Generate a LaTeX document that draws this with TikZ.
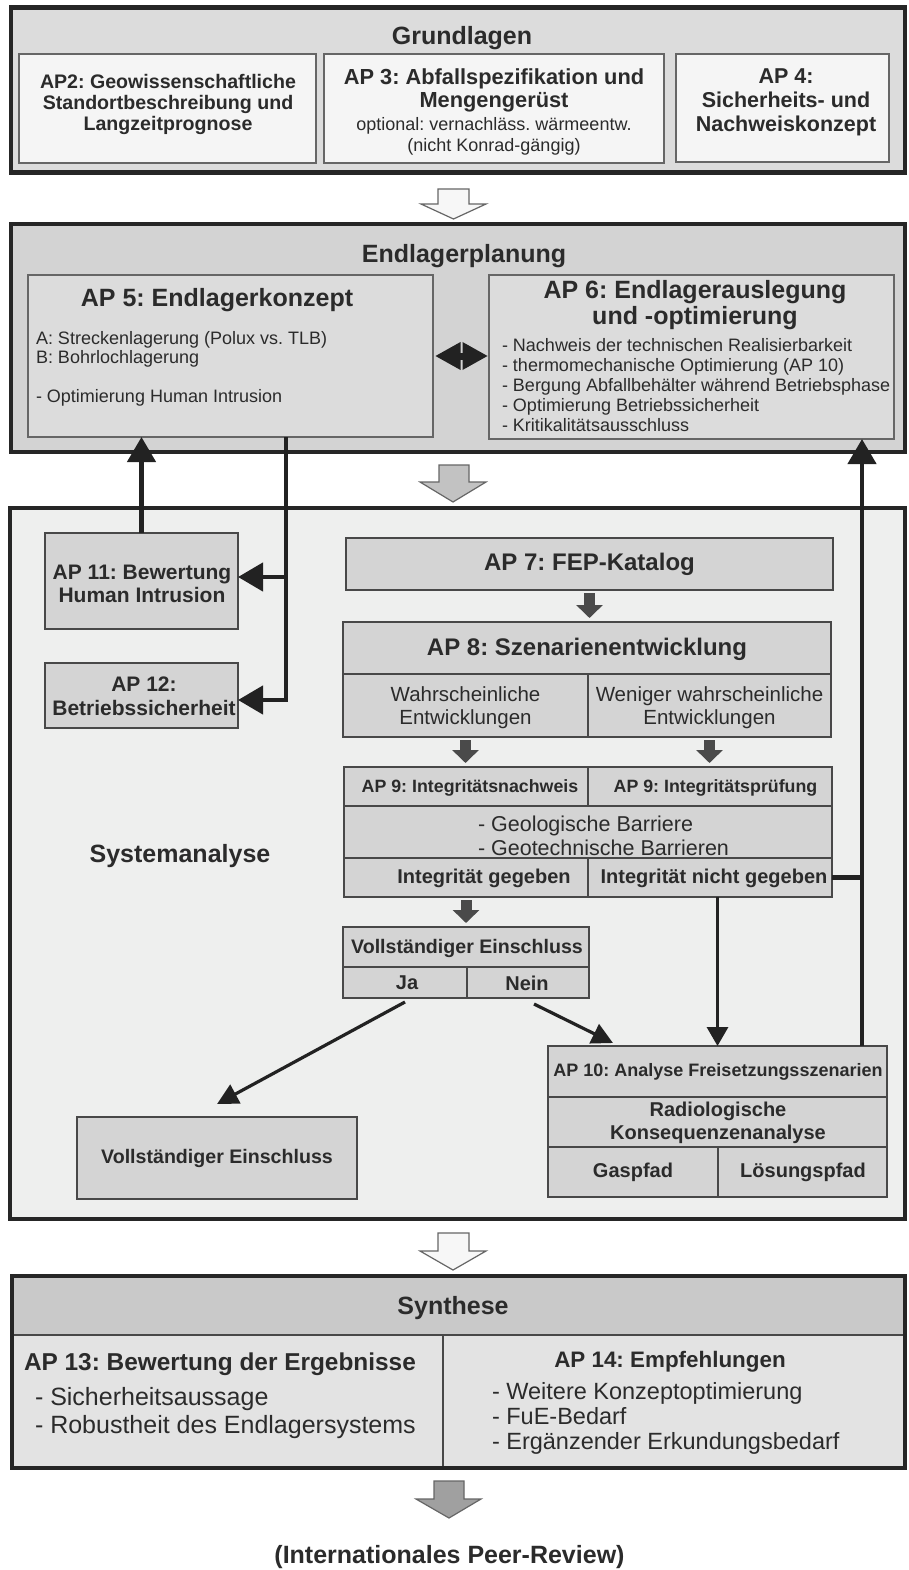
\documentclass[tikz,border=0pt]{standalone}
\usepackage{fontspec}
\setmainfont{Liberation Sans}
\usetikzlibrary{arrows.meta}
\definecolor{txtc}{HTML}{2B2B2B}
\definecolor{outc}{HTML}{262626}
\definecolor{cellc}{HTML}{484848}
\definecolor{cellc2}{HTML}{666666}
\definecolor{gfill}{HTML}{DCDCDC}
\definecolor{lightc}{HTML}{F5F5F5}
\definecolor{efill}{HTML}{D3D3D3}
\definecolor{e2fill}{HTML}{DCDCDC}
\definecolor{sfill}{HTML}{EEEFEE}
\definecolor{boxc}{HTML}{D4D4D4}
\definecolor{sytc}{HTML}{C9C9C9}
\definecolor{sylc}{HTML}{E3E3E3}
\definecolor{connc}{HTML}{222222}
\definecolor{fatc}{HTML}{4A4A4A}
\definecolor{blkc}{HTML}{666666}
\definecolor{arrw}{HTML}{F7F7F7}
\definecolor{arrg}{HTML}{C2C2C2}
\definecolor{arrd}{HTML}{A0A0A0}
\newcommand\fs[2]{\fontsize{#1pt}{#2pt}\selectfont}
\frenchspacing
\begin{document}
\begin{tikzpicture}[x=1pt,y=-1pt,
  sect/.style={draw=outc, line width=4.5pt, inner sep=0pt, outer sep=0pt, anchor=north west},
  cell/.style={draw=cellc, line width=1.7pt, inner sep=0pt, outer sep=0pt, anchor=north west, fill=boxc},
  lbl/.style={inner sep=0pt, outer sep=0pt, text=txtc, align=center},
  conn/.style={draw=connc, line width=4.5pt},
  bigtip/.style={-{Triangle[length=25pt,width=28pt]}},
  diag/.style={draw=connc, line width=3.2pt, -{Triangle[length=21pt,width=21pt]}},
  fat/.style={draw=fatc, line width=11pt, -{Triangle[length=13pt,width=26pt]}, shorten <=3pt, shorten >=4pt},
  blk/.style={draw=blkc, line width=1.2pt, line join=miter}
]
\fill[white] (0,0) rectangle (909,1570);
\useasboundingbox (0,0) rectangle (909,1570);

% ---------------- Grundlagen
\node[sect, fill=gfill, minimum width=894pt, minimum height=165pt] (grund) at (11,7.5) {};
\node[lbl, font=\fs{25}{27}\bfseries] (grundT) at (462,38) {Grundlagen};
\node[cell, fill=lightc, draw=cellc2, line width=1.4pt, minimum width=297pt, minimum height=109pt] (ap2) at (19,54) {};
\node[lbl, font=\fs{19.6}{21}\bfseries] (ap2T) at (168,104) {AP2: Geowissenschaftliche\\Standortbeschreibung und\\Langzeitprognose};
\node[cell, fill=lightc, draw=cellc2, line width=1.4pt, minimum width=340pt, minimum height=109pt] (ap3) at (324,54) {};
\node[lbl, font=\fs{21.8}{23}\bfseries] (ap3T) at (494,90) {AP 3: Abfallspezifikation und\\Mengengerüst};
\node[lbl, font=\fs{18}{21}] (ap3N) at (494,136) {optional: vernachläss. wärmeentw.\\(nicht Konrad-gängig)};
\node[cell, fill=lightc, draw=cellc2, line width=1.4pt, minimum width=213pt, minimum height=108pt] (ap4) at (676,54) {};
\node[lbl, font=\fs{21.5}{24}\bfseries] (ap4T) at (786,102) {AP 4:\\Sicherheits- und\\Nachweiskonzept};

\path[blk, fill=arrw] (438,189) -- (469,189) -- (469,204) -- (486,204) -- (453.5,219) -- (421,204) -- (438,204) -- cycle;

% ---------------- Endlagerplanung
\node[sect, fill=efill, minimum width=894pt, minimum height=228pt] (endl) at (11,224) {};
\node[lbl, font=\fs{25}{27}\bfseries] (endlT) at (464,256) {Endlagerplanung};
\node[cell, fill=e2fill, draw=cellc2, line width=1.4pt, minimum width=405pt, minimum height=162pt] (ap5) at (28,275) {};
\node[lbl, font=\fs{25}{27}\bfseries] (ap5T) at (217,300) {AP 5: Endlagerkonzept};
\node[lbl, align=left, anchor=west, font=\fs{18}{19.5}] (ap5B) at (36,369) {A: Streckenlagerung (Polux vs. TLB)\\B: Bohrlochlagerung\\[19.5pt]- Optimierung Human Intrusion};
\node[cell, fill=e2fill, draw=cellc2, line width=1.4pt, minimum width=405pt, minimum height=164pt] (ap6) at (489,275) {};
\node[lbl, font=\fs{25}{26}\bfseries] (ap6T) at (695,305) {AP 6: Endlagerauslegung\\und -optimierung};
\node[lbl, align=left, anchor=west, font=\fs{18}{20.2}] (ap6B) at (502,385) {- Nachweis der technischen Realisierbarkeit\\- thermomechanische Optimierung (AP 10)\\- Bergung Abfallbehälter während Betriebsphase\\- Optimierung Betriebssicherheit\\- Kritikalitätsausschluss};

\path[blk, fill=arrg] (439,465) -- (469,465) -- (469,482) -- (486,482) -- (453,502) -- (420,482) -- (439,482) -- cycle;

% ---------------- Systemanalyse
\node[sect, fill=sfill, minimum width=895pt, minimum height=711pt] (sys) at (10,508) {};
\node[lbl, font=\fs{25}{27}\bfseries] (sysT) at (180,856) {Systemanalyse};

\node[cell, minimum width=193pt, minimum height=96pt] (ap11) at (45,533) {};
\node[lbl, font=\fs{21}{23}\bfseries] (ap11T) at (142,584) {AP 11: Bewertung\\Human Intrusion};
\node[cell, minimum width=193pt, minimum height=65pt] (ap12) at (45,663) {};
\node[lbl, font=\fs{21}{24}\bfseries] (ap12T) at (144,696) {AP 12:\\Betriebssicherheit};

\node[cell, minimum width=487pt, minimum height=52pt] (ap7) at (346,538) {};
\node[lbl, font=\fs{24}{26}\bfseries] (ap7T) at (589.5,564) {AP 7: FEP-Katalog};

\node[cell, minimum width=488pt, minimum height=52pt] (ap8) at (343,622) {};
\node[lbl, font=\fs{24}{26}\bfseries] (ap8T) at (587,649) {AP 8: Szenarienentwicklung};
\node[cell, minimum width=245pt, minimum height=63pt] (wahr) at (343,674) {};
\node[lbl, font=\fs{20.5}{23}] (wahrT) at (465.5,708) {Wahrscheinliche\\Entwicklungen};
\node[cell, minimum width=243pt, minimum height=63pt] (wenig) at (588,674) {};
\node[lbl, font=\fs{20.5}{23}] (wenigT) at (709.5,708) {Weniger wahrscheinliche\\Entwicklungen};

\node[cell, minimum width=244pt, minimum height=39pt] (ap9a) at (344,767) {};
\node[lbl, font=\fs{17.8}{20}\bfseries] (ap9aT) at (470,787.5) {AP 9: Integritätsnachweis};
\node[cell, minimum width=244pt, minimum height=39pt] (ap9b) at (588,767) {};
\node[lbl, font=\fs{17.8}{20}\bfseries] (ap9bT) at (715.5,787.5) {AP 9: Integritätsprüfung};
\node[cell, minimum width=488pt, minimum height=52pt] (barr) at (344,806) {};
\node[lbl, align=left, anchor=west, font=\fs{21.5}{24}] (barrT) at (478,836) {- Geologische Barriere\\- Geotechnische Barrieren};
\node[cell, minimum width=244pt, minimum height=39pt] (igeg) at (344,858) {};
\node[lbl, font=\fs{20}{22}\bfseries] (igegT) at (484,878.5) {Integrität gegeben};
\node[cell, minimum width=244pt, minimum height=39pt] (ingeg) at (588,858) {};
\node[lbl, font=\fs{20}{22}\bfseries] (ingegT) at (714,878.5) {Integrität nicht gegeben};

\node[cell, minimum width=246pt, minimum height=40pt] (ve1) at (343,927) {};
\node[lbl, font=\fs{19.6}{22}\bfseries] (ve1T) at (467,948) {Vollständiger Einschluss};
\node[cell, minimum width=124pt, minimum height=31pt] (ja) at (343,967) {};
\node[lbl, font=\fs{20}{22}\bfseries] (jaT) at (407,983) {Ja};
\node[cell, minimum width=122pt, minimum height=31pt] (nein) at (467,967) {};
\node[lbl, font=\fs{20}{22}\bfseries] (neinT) at (527,983) {Nein};

\node[cell, minimum width=339pt, minimum height=51pt] (ap10) at (548,1046) {};
\node[lbl, font=\fs{18}{20}\bfseries] (ap10T) at (718,1072) {AP 10: Analyse Freisetzungsszenarien};
\node[cell, minimum width=339pt, minimum height=50pt] (radio) at (548,1097) {};
\node[lbl, font=\fs{20}{23}\bfseries] (radioT) at (718,1123) {Radiologische\\Konsequenzenanalyse};
\node[cell, minimum width=170pt, minimum height=50pt] (gas) at (548,1147) {};
\node[lbl, font=\fs{20}{22}\bfseries] (gasT) at (633,1172) {Gaspfad};
\node[cell, minimum width=169pt, minimum height=50pt] (loes) at (718,1147) {};
\node[lbl, font=\fs{20}{22}\bfseries] (loesT) at (803,1172) {Lösungspfad};

\node[cell, minimum width=280pt, minimum height=82pt] (ve2) at (77,1117) {};
\node[lbl, font=\fs{19.6}{22}\bfseries] (ve2T) at (217,1158) {Vollständiger Einschluss};

% connectors in Systemanalyse
\coordinate (jx) at (286,577);
\coordinate (jy) at (286,700);
\coordinate (rx) at (862,878);
\draw[conn, bigtip] (ap11.north) -- (ap11.north |- ap5.south);
\draw[conn, line join=miter, bigtip] (ap5.south -| jx) -- (jy) -- (jy -| ap12.east);
\draw[conn, bigtip] (jx) -- (jx -| ap11.east);
\draw[conn, bigtip] (ap10.north -| rx) -- (ap6.south -| rx);
\draw[conn] (ingeg.east) -- (ingeg.east -| rx);

\draw[fat] (ap7.south) -- (ap7.south |- ap8.north);
\draw[fat] (wahr.south) -- (wahr.south |- ap9a.north);
\draw[fat] (wenig.south) -- (wenig.south |- ap9b.north);
\draw[fat] (igeg.south) -- (igeg.south |- ve1.north);

\draw[draw=connc, line width=3.2pt, -{Triangle[length=19pt,width=21pt]}] (ingeg.south -| ap10.north) -- (ap10.north);
\draw[diag] ([yshift=-4pt]ja.south) -- ([yshift=13pt]ve2.north);
\draw[diag] ([xshift=6pt,yshift=-6pt]nein.south) -- ([xshift=65pt,yshift=3pt]ap10.north west);

\draw[draw=connc, line width=7pt, {Triangle[length=25.5pt,width=26pt]}-{Triangle[length=25.5pt,width=26pt]}, shorten <=2pt, shorten >=1pt] (ap5.east) -- (ap5.east -| ap6.west);

\path[blk, fill=arrw] (438,1233) -- (469,1233) -- (469,1251) -- (486,1251) -- (453,1270) -- (420,1251) -- (438,1251) -- cycle;

% ---------------- Synthese
\node[cell, fill=sytc, minimum width=893pt, minimum height=59pt] (synh) at (12,1276) {};
\node[cell, fill=sylc, minimum width=431pt, minimum height=133pt] (ap13) at (12,1335) {};
\node[cell, fill=sylc, minimum width=462pt, minimum height=133pt] (ap14) at (443,1335) {};
\node[sect, minimum width=893pt, minimum height=192pt] (syn) at (12,1276) {};
\node[lbl, font=\fs{25}{27}\bfseries] (synT) at (453,1308) {Synthese};
\node[lbl, anchor=west, font=\fs{24.4}{27}\bfseries] (ap13T) at (24,1364) {AP 13: Bewertung der Ergebnisse};
\node[lbl, align=left, anchor=west, font=\fs{25}{28}] (ap13B) at (35,1413) {- Sicherheitsaussage\\- Robustheit des Endlagersystems};
\node[lbl, font=\fs{22.4}{25}\bfseries] (ap14T) at (670,1362) {AP 14: Empfehlungen};
\node[lbl, align=left, anchor=west, font=\fs{23.5}{25}] (ap14B) at (492,1418) {- Weitere Konzeptoptimierung\\- FuE-Bedarf\\- Ergänzender Erkundungsbedarf};

\path[blk, fill=arrd] (434,1481) -- (464,1481) -- (464,1499) -- (481,1499) -- (449,1518) -- (416,1499) -- (434,1499) -- cycle;

\node[lbl, font=\fs{25}{27}\bfseries] (peer) at (449.5,1557) {(Internationales Peer-Review)};
\end{tikzpicture}
\end{document}
